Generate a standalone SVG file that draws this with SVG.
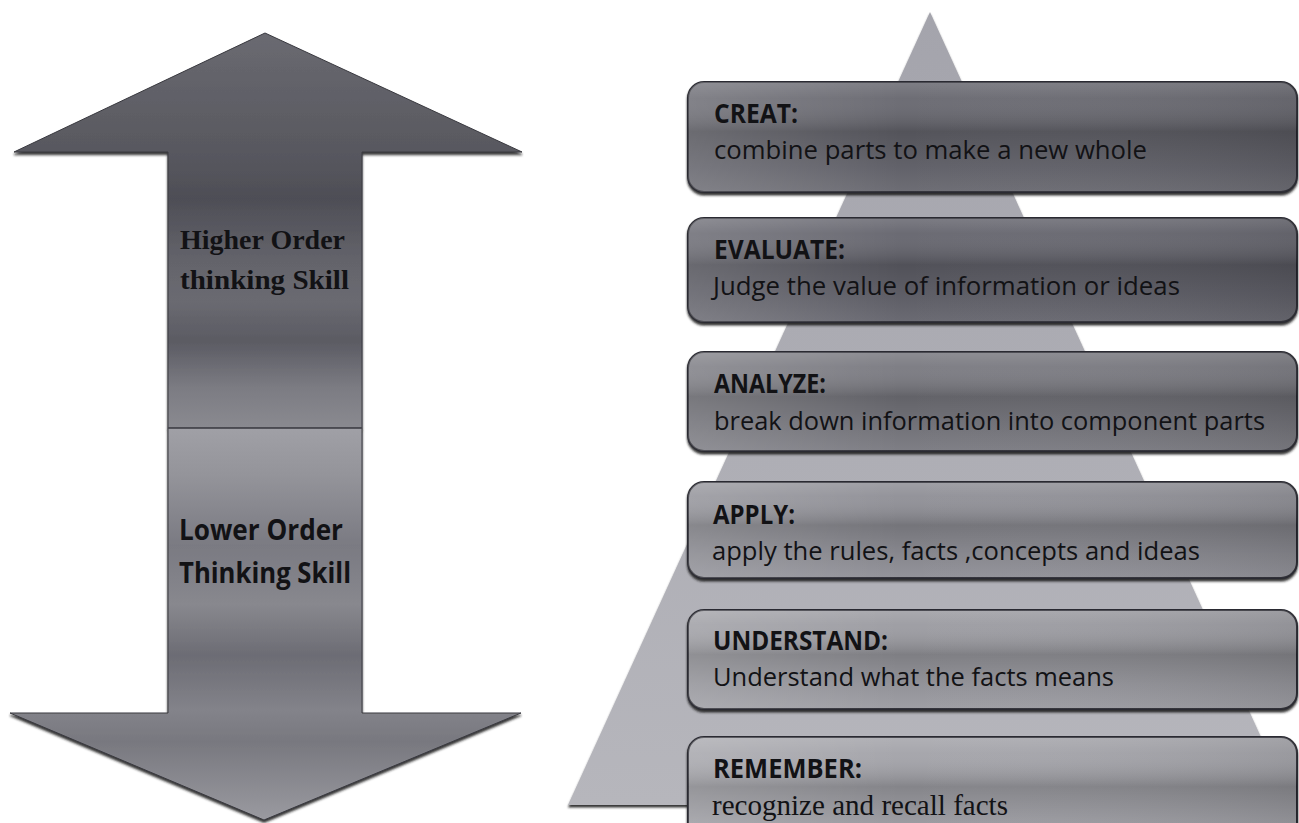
<svg xmlns="http://www.w3.org/2000/svg" width="1299" height="823" viewBox="0 0 1299 823">
<defs>
<style>
.sans{font-family:"Open Sans","Noto Sans","Liberation Sans",sans-serif;fill:#121215}
.title{font-size:26px;font-weight:bold}
.desc{font-size:26px}
.serif{font-family:"Liberation Serif","DejaVu Serif",serif;fill:#121215}
.arrowtxt{font-size:28px;font-weight:bold}
.box{stroke:#2c2c32;stroke-width:2}
.arrow{stroke:#3a3a40;stroke-width:1}
</style>
<linearGradient id="gUp" gradientUnits="userSpaceOnUse" x1="0" y1="33" x2="0" y2="428">
<stop offset="0" stop-color="#6a6a71"/>
<stop offset="0.3" stop-color="#58585f"/>
<stop offset="0.42" stop-color="#4e4e56"/>
<stop offset="0.58" stop-color="#64646b"/>
<stop offset="0.68" stop-color="#6a6a71"/>
<stop offset="0.78" stop-color="#5b5b63"/>
<stop offset="0.9" stop-color="#7c7c83"/>
<stop offset="1" stop-color="#8a8a90"/>
</linearGradient>
<linearGradient id="gDown" gradientUnits="userSpaceOnUse" x1="0" y1="428" x2="0" y2="820">
<stop offset="0" stop-color="#a0a0a6"/>
<stop offset="0.12" stop-color="#94949a"/>
<stop offset="0.3" stop-color="#7a7a82"/>
<stop offset="0.45" stop-color="#88888e"/>
<stop offset="0.58" stop-color="#6c6c74"/>
<stop offset="0.72" stop-color="#83838a"/>
<stop offset="0.8" stop-color="#78787f"/>
<stop offset="1" stop-color="#9a9aa0"/>
</linearGradient>
<linearGradient id="gPyr" x1="0" y1="0" x2="0" y2="1">
<stop offset="0" stop-color="#a4a4ac"/>
<stop offset="1" stop-color="#b6b6bc"/>
</linearGradient>
<linearGradient id="gShadeV" x1="0" y1="0" x2="0" y2="1">
<stop offset="0" stop-color="#ffffff" stop-opacity="0.16"/>
<stop offset="0.15" stop-color="#ffffff" stop-opacity="0.05"/>
<stop offset="0.45" stop-color="#000000" stop-opacity="0.18"/>
<stop offset="0.75" stop-color="#000000" stop-opacity="0.05"/>
<stop offset="1" stop-color="#ffffff" stop-opacity="0.05"/>
</linearGradient>
<linearGradient id="gShadeH" x1="0" y1="0" x2="1" y2="0">
<stop offset="0" stop-color="#ffffff" stop-opacity="0.14"/>
<stop offset="0.35" stop-color="#ffffff" stop-opacity="0"/>
<stop offset="1" stop-color="#000000" stop-opacity="0.08"/>
</linearGradient>
<filter id="shadow" x="-5%" y="-5%" width="110%" height="115%">
<feDropShadow dx="0" dy="2.5" stdDeviation="1" flood-color="#1a1a1e" flood-opacity="0.9"/>
</filter>
</defs>
<rect width="1299" height="823" fill="#ffffff"/>

<g id="arrow-up">
<path class="arrow" d="M265 33 L522 152 L362 152 L362 428 L168 428 L168 152 L14 152 Z" fill="url(#gUp)" filter="url(#shadow)"/>
<text class="serif arrowtxt" x="180" y="249" textLength="165" lengthAdjust="spacingAndGlyphs">Higher Order</text>
<text class="serif arrowtxt" x="180" y="289" textLength="169" lengthAdjust="spacingAndGlyphs">thinking Skill</text>
</g>
<g id="arrow-down">
<path class="arrow" d="M168 428 L362 428 L362 713 L521 713 L264 820 L10 713 L168 713 Z" fill="url(#gDown)" filter="url(#shadow)"/>
<line x1="168" y1="428" x2="362" y2="428" stroke="#4a4a50" stroke-width="1.5"/>
<text class="sans arrowtxt" x="179" y="540" textLength="164" lengthAdjust="spacingAndGlyphs">Lower Order</text>
<text class="sans arrowtxt" x="179" y="583" textLength="172" lengthAdjust="spacingAndGlyphs">Thinking Skill</text>
</g>

<g id="pyramid">
<polygon points="930,12 568,805 1292,805" fill="url(#gPyr)" filter="url(#shadow)"/>
</g>

<g id="connectors"></g>

<g id="create">
<rect class="box" x="688" y="82" width="609" height="110" rx="16" fill="#66666e" filter="url(#shadow)"/>
<rect x="688" y="82" width="609" height="110" rx="16" fill="url(#gShadeV)"/>
<rect x="688" y="82" width="609" height="110" rx="16" fill="url(#gShadeH)"/>
<text class="sans title" x="714" y="123" textLength="84" lengthAdjust="spacingAndGlyphs">CREAT:</text>
<text class="sans desc" x="714" y="159" textLength="433" lengthAdjust="spacingAndGlyphs">combine parts to make a new whole</text>
</g>

<g id="evaluate">
<rect class="box" x="688" y="218" width="609" height="104" rx="16" fill="#64646c" filter="url(#shadow)"/>
<rect x="688" y="218" width="609" height="104" rx="16" fill="url(#gShadeV)"/>
<rect x="688" y="218" width="609" height="104" rx="16" fill="url(#gShadeH)"/>
<text class="sans title" x="714" y="259" textLength="131" lengthAdjust="spacingAndGlyphs">EVALUATE:</text>
<text class="sans desc" x="713" y="295" textLength="467" lengthAdjust="spacingAndGlyphs">Judge the value of information or ideas</text>
</g>

<g id="analyze">
<rect class="box" x="688" y="352" width="609" height="99" rx="16" fill="#78787f" filter="url(#shadow)"/>
<rect x="688" y="352" width="609" height="99" rx="16" fill="url(#gShadeV)"/>
<rect x="688" y="352" width="609" height="99" rx="16" fill="url(#gShadeH)"/>
<text class="sans title" x="714" y="393" textLength="112" lengthAdjust="spacingAndGlyphs">ANALYZE:</text>
<text class="sans desc" x="714" y="430" textLength="551" lengthAdjust="spacingAndGlyphs">break down information into component parts</text>
</g>

<g id="apply">
<rect class="box" x="688" y="482" width="609" height="96" rx="16" fill="#8e8e95" filter="url(#shadow)"/>
<rect x="688" y="482" width="609" height="96" rx="16" fill="url(#gShadeV)"/>
<rect x="688" y="482" width="609" height="96" rx="16" fill="url(#gShadeH)"/>
<text class="sans title" x="713" y="524" textLength="82" lengthAdjust="spacingAndGlyphs">APPLY:</text>
<text class="sans desc" x="712" y="560" textLength="488" lengthAdjust="spacingAndGlyphs">apply the rules, facts ,concepts and ideas</text>
</g>

<g id="understand">
<rect class="box" x="688" y="610" width="609" height="99" rx="16" fill="#9a9aa0" filter="url(#shadow)"/>
<rect x="688" y="610" width="609" height="99" rx="16" fill="url(#gShadeV)"/>
<rect x="688" y="610" width="609" height="99" rx="16" fill="url(#gShadeH)"/>
<text class="sans title" x="713" y="650" textLength="175" lengthAdjust="spacingAndGlyphs">UNDERSTAND:</text>
<text class="sans desc" x="713" y="686" textLength="401" lengthAdjust="spacingAndGlyphs">Understand what the facts means</text>
</g>

<g id="remember">
<rect class="box" x="688" y="737" width="609" height="110" rx="16" fill="#a2a2a8" filter="url(#shadow)"/>
<rect x="688" y="737" width="609" height="110" rx="16" fill="url(#gShadeV)"/>
<rect x="688" y="737" width="609" height="110" rx="16" fill="url(#gShadeH)"/>
<text class="sans title" x="713" y="778" textLength="149" lengthAdjust="spacingAndGlyphs">REMEMBER:</text>
<text class="serif" x="712" y="815" font-size="29" textLength="296" lengthAdjust="spacingAndGlyphs">recognize and recall facts</text>
</g>
</svg>
